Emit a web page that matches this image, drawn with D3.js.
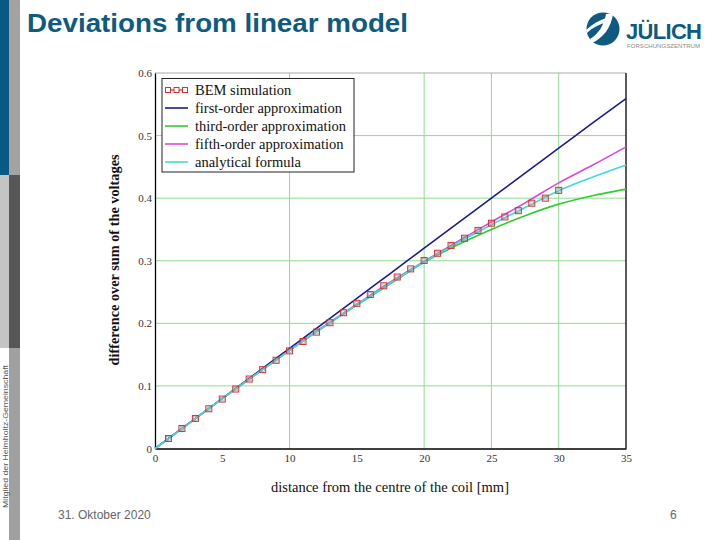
<!DOCTYPE html>
<html><head><meta charset="utf-8">
<script src="https://cdn.jsdelivr.net/npm/d3@7"></script>
<style>body{margin:0;background:#fff}svg{display:block}</style>
</head><body><svg id="c" width="720" height="540"></svg>
<script>
// ---- data ----
const xSamples   = [0, 2.5, 5, 7.5, 10, 12.5, 15, 17.5, 20, 22.5, 25, 27.5, 30, 32.5, 35];
const firstOrder = [0, 0.040, 0.080, 0.120, 0.160, 0.200, 0.240, 0.280, 0.320, 0.360, 0.400, 0.440, 0.480, 0.520, 0.559];
const thirdOrder = [0, 0.0399, 0.0796, 0.1186, 0.1568, 0.1938, 0.2292, 0.2635, 0.2975, 0.3255, 0.3500, 0.3720, 0.3905, 0.4040, 0.4145];
const fifthOrder = [0, 0.0399, 0.0796, 0.1186, 0.1570, 0.1945, 0.2305, 0.2660, 0.2990, 0.3310, 0.3620, 0.3925, 0.4245, 0.4525, 0.4820];
const analytical = [0, 0.0399, 0.0796, 0.1186, 0.1568, 0.1940, 0.2298, 0.2645, 0.2980, 0.3285, 0.3575, 0.3850, 0.4120, 0.4335, 0.4530];
const bemX = [1,2,3,4,5,6,7,8,9,10,11,12,13,14,15,16,17,18,19,20,21,22,23,24,25,26,27,28,29,30];
const bemY = [0.016,0.032,0.048,0.0635,0.079,0.095,0.111,0.126,0.141,0.156,0.171,0.186,0.201,0.217,0.232,0.246,0.260,0.274,0.287,0.3005,0.312,0.3245,0.336,0.3485,0.360,0.370,0.380,0.392,0.400,0.4125];
const seriesNames = ["BEM simulation","first-order approximation","third-order approximation","fifth-order approximation","analytical formula"];
const seriesColors = ["#d83030","#1c1c8a","#33cc33","#d84ad8","#3cdcdc"];
const xTicks = [0,5,10,15,20,25,30,35];
const yTicks = [0,0.1,0.2,0.3,0.4,0.5,0.6];
const xGrid = [10,20,25,30];
const yGrid = [0.1,0.2,0.3,0.4,0.5];

const svg = d3.select("#c");

// ---- slide decoration ----
svg.append("rect").attr("x",0).attr("y",0).attr("width",9).attr("height",175).attr("fill","#075b83");
svg.append("rect").attr("x",0).attr("y",175).attr("width",9).attr("height",173).attr("fill","#c4c4c4");
svg.append("rect").attr("x",9).attr("y",0).attr("width",11).attr("height",175).attr("fill","#a3a3a3");
svg.append("rect").attr("x",9).attr("y",175).attr("width",11).attr("height",173).attr("fill","#565656");
svg.append("rect").attr("x",9).attr("y",348).attr("width",11).attr("height",192).attr("fill","#a0a0a0");
svg.append("text").attr("transform","translate(7.5,508) rotate(-90)")
  .attr("font-family","Liberation Sans Narrow, Liberation Sans, Arial, sans-serif").attr("font-size",8)
  .attr("textLength",143).attr("lengthAdjust","spacingAndGlyphs").attr("fill","#555")
  .text("Mitglied der Helmholtz-Gemeinschaft");

svg.append("text").attr("x",27).attr("y",32)
  .attr("font-family","Liberation Sans, Arial, sans-serif").attr("font-weight","bold")
  .attr("font-size",26).attr("textLength",381).attr("lengthAdjust","spacingAndGlyphs")
  .attr("fill","#0e5a80").text("Deviations from linear model");

// logo
const logo = svg.append("g");
logo.append("circle").attr("cx",603).attr("cy",29).attr("r",16.5).attr("fill","#0e5a80");
logo.append("path").attr("d","M590,39 C598,34 604,26 606,14 L613,14 C611,28 603,38 592,43 Z").attr("fill","#fff");
logo.append("path").attr("d","M586,30 C592,24 600,20 606,18 L604,23 C598,25 592,28 587,33 Z").attr("fill","#fff");
logo.append("text").attr("x",626).attr("y",39)
  .attr("font-family","Liberation Sans, Arial, sans-serif").attr("font-weight","bold")
  .attr("font-size",22).attr("fill","#0e5a80").attr("textLength",76).text("JÜLICH");
logo.append("text").attr("x",627).attr("y",48)
  .attr("font-family","Liberation Sans, Arial, sans-serif")
  .attr("font-size",6).attr("fill","#888").attr("textLength",73).text("FORSCHUNGSZENTRUM");

svg.append("text").attr("x",58).attr("y",519)
  .attr("font-family","Liberation Sans Narrow, Liberation Sans, Arial, sans-serif")
  .attr("font-size",12).attr("fill","#666").text("31. Oktober 2020");
svg.append("text").attr("x",670).attr("y",519)
  .attr("font-family","Liberation Sans Narrow, Liberation Sans, Arial, sans-serif")
  .attr("font-size",12).attr("fill","#666").text("6");

// ---- chart ----
const L = 155, R = 626, T = 73, B = 448.5;
const x = d3.scaleLinear().domain([0,35]).range([L,R]);
const y = d3.scaleLinear().domain([0,0.6]).range([B,T]);
const serif = "Liberation Serif, Times New Roman, serif";

const grid = svg.append("g").attr("stroke","#8fdc8f").attr("stroke-width",1);
grid.selectAll(".gx").data(xGrid).join("line")
  .attr("x1",d=>x(d)).attr("x2",d=>x(d)).attr("y1",T).attr("y2",B);
grid.selectAll(".gy").data(yGrid).join("line")
  .attr("x1",L).attr("x2",R).attr("y1",d=>y(d)).attr("y2",d=>y(d));

// frame
svg.append("line").attr("x1",L).attr("x2",R).attr("y1",T).attr("y2",T).attr("stroke","#aaa");
svg.append("line").attr("x1",R).attr("x2",R).attr("y1",T).attr("y2",B).attr("stroke","#000").attr("stroke-width",1.3);

const xAxis = svg.append("g").attr("transform",`translate(0,${B})`)
  .call(d3.axisBottom(x).tickValues(xTicks).tickSize(0).tickPadding(6).tickFormat(d3.format("d")));
const yAxis = svg.append("g").attr("transform",`translate(${L},0)`)
  .call(d3.axisLeft(y).tickValues(yTicks).tickSize(0).tickPadding(3).tickFormat(d=> d===0?"0":d3.format(".1f")(d)));
[xAxis,yAxis].forEach(a=>{
  a.select(".domain").attr("stroke","#000").attr("stroke-width",1.3);
  a.selectAll("text").attr("font-family",serif).attr("font-size",11).attr("fill","#333");
});

svg.append("text").attr("x",390).attr("y",492).attr("text-anchor","middle")
  .attr("font-family",serif).attr("font-size",14.5).attr("fill","#111")
  .text("distance from the centre of the coil [mm]");
svg.append("text").attr("transform","translate(119,260) rotate(-90)").attr("text-anchor","middle")
  .attr("font-family",serif).attr("font-size",14.3).attr("font-weight","bold").attr("fill","#111")
  .text("difference over sum of the voltages");

// curves
const line = d3.line().x(d=>x(d[0])).y(d=>y(d[1])).curve(d3.curveMonotoneX);
const curves = [firstOrder, thirdOrder, fifthOrder, analytical];
const plot = svg.append("g");
curves.forEach((vals,i)=>{
  plot.append("path").datum(xSamples.map((xv,j)=>[xv, vals[j]]))
    .attr("d",line).attr("fill","none").attr("stroke",seriesColors[i+1]).attr("stroke-width",1.6);
});

// BEM markers
const bem = plot.selectAll(".bem").data(bemX.map((xv,i)=>[xv,bemY[i]])).join("g")
  .attr("transform",d=>`translate(${x(d[0])},${y(d[1])})`);
bem.append("rect").attr("x",-3).attr("y",-3).attr("width",6).attr("height",6)
  .attr("fill","none").attr("stroke",seriesColors[0]).attr("stroke-width",1);
bem.append("rect").attr("x",-1.8).attr("y",-1.8).attr("width",3.6).attr("height",3.6)
  .attr("fill","none").attr("stroke","#999").attr("stroke-width",0.6);

// legend
const lg = svg.append("g");
lg.append("rect").attr("x",162).attr("y",78.5).attr("width",192).attr("height",93.5)
  .attr("fill","#fff").attr("stroke","#222").attr("stroke-width",1);
seriesNames.forEach((name,i)=>{
  const yy = 90 + i*18;
  lg.append("line").attr("x1",165).attr("x2",188).attr("y1",yy).attr("y2",yy)
    .attr("stroke",seriesColors[i]).attr("stroke-width", i===0?1.2:1.6);
  if(i===0){
    [168,176.5,185].forEach(cx=>{
      lg.append("rect").attr("x",cx-2.5).attr("y",yy-2.5).attr("width",5).attr("height",5)
        .attr("fill","#fff").attr("stroke",seriesColors[0]).attr("stroke-width",1);
    });
  }
  lg.append("text").attr("x",195).attr("y",yy+4.5)
    .attr("font-family",serif).attr("font-size",14.5).attr("fill","#111").text(name);
});
</script></body></html>
